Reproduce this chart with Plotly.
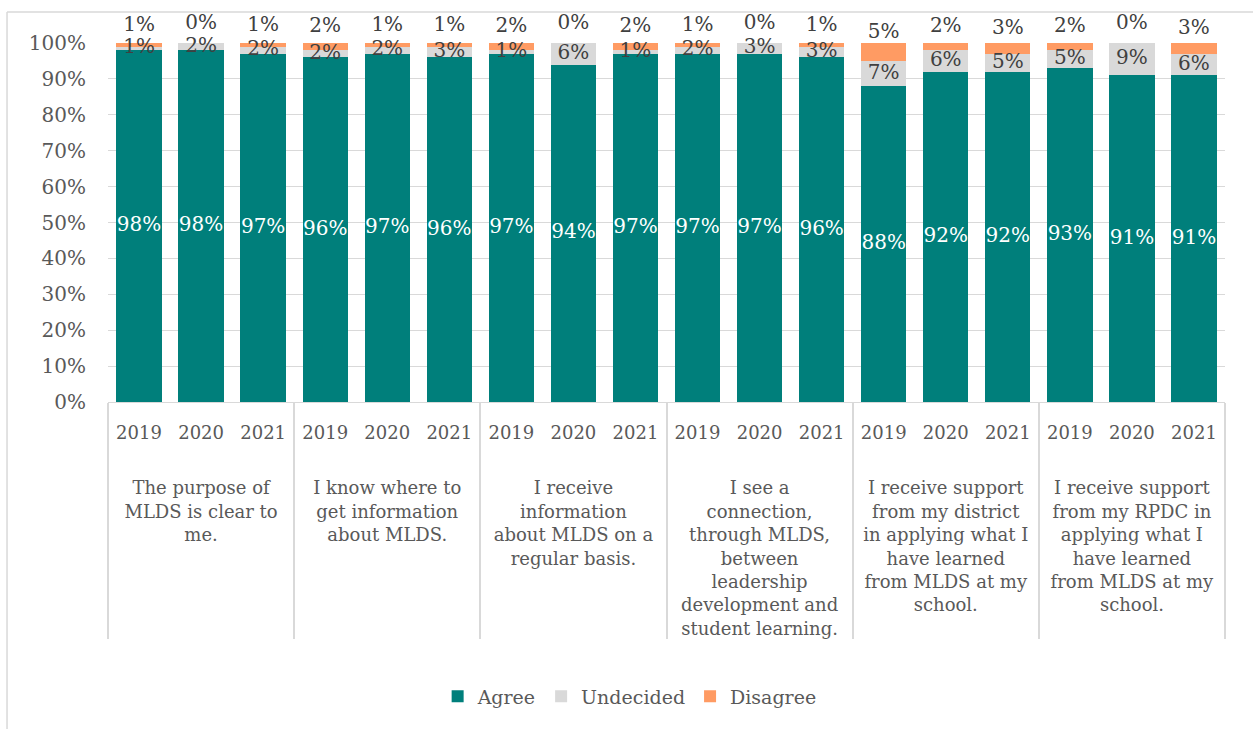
import plotly.graph_objects as go

# Survey statements (axis group labels) and survey years
statements = [
    "The purpose of<br>MLDS is clear to<br>me.",
    "I know where to<br>get information<br>about MLDS.",
    "I receive<br>information<br>about MLDS on a<br>regular basis.",
    "I see a<br>connection,<br>through MLDS,<br>between<br>leadership<br>development and<br>student learning.",
    "I receive support<br>from my district<br>in applying what I<br>have learned<br>from MLDS at my<br>school.",
    "I receive support<br>from my RPDC in<br>applying what I<br>have learned<br>from MLDS at my<br>school.",
]
years = ["2019", "2020", "2021"]

# Percent of respondents, ordered statement by statement, 2019-2021
agree = [98, 98, 97, 96, 97, 96, 97, 94, 97, 97, 97, 96, 88, 92, 92, 93, 91, 91]
undecided = [1, 2, 2, 2, 2, 3, 1, 6, 1, 2, 3, 3, 7, 6, 5, 5, 9, 6]
disagree = [1, 0, 1, 2, 1, 1, 2, 0, 2, 1, 0, 1, 5, 2, 3, 2, 0, 3]

# blank leading lines open a gap between the year row and the statement text
x_outer = ["<br><br>" + s for s in statements for _ in years]
x_inner = [y for _ in statements for y in years]
x = [x_outer, x_inner]

FONT = "DejaVu Serif"
GREY_TXT = "#595959"
LABEL_TXT = "#404040"
C_AGREE = "#007F7B"
C_UND = "#D9D9D9"
C_DIS = "#FF9B63"
LINE = "#D9D9D9"

fig = go.Figure()
fig.add_bar(x=x, y=agree, name="Agree", marker=dict(color=C_AGREE, line=dict(width=0)))
fig.add_bar(x=x, y=undecided, name="Undecided", marker=dict(color=C_UND, line=dict(width=0)))
fig.add_bar(x=x, y=disagree, name="Disagree", marker=dict(color=C_DIS, line=dict(width=0)))

# Value labels: agree and undecided centred in their segment, disagree above its segment
agree_mid = [a / 2 for a in agree]
und_mid = [a + u / 2 for a, u in zip(agree, undecided)]
dis_mid = [a + u + d / 2 for a, u, d in zip(agree, undecided, disagree)]

fig.add_scatter(x=x, y=agree_mid, mode="text", text=[f"{v}%" for v in agree],
                textposition="middle center", showlegend=False, hoverinfo="skip",
                cliponaxis=False,
                textfont=dict(family=FONT, size=20, color="white"))
fig.add_scatter(x=x, y=und_mid, mode="text", text=[f"{v}%" for v in undecided],
                textposition="middle center", showlegend=False, hoverinfo="skip",
                cliponaxis=False,
                textfont=dict(family=FONT, size=20, color=LABEL_TXT))
# invisible markers give the "top center" text its lift above the segment
fig.add_scatter(x=x, y=dis_mid, mode="markers+text", text=[f"{v}%" for v in disagree],
                textposition="top center", showlegend=False, hoverinfo="skip",
                cliponaxis=False, marker=dict(size=13, opacity=0),
                textfont=dict(family=FONT, size=20, color=LABEL_TXT))

fig.update_layout(
    barmode="stack",
    bargap=0.27,
    width=1253,
    height=729,
    margin=dict(l=108, r=28, t=43, b=327),
    paper_bgcolor="white",
    plot_bgcolor="white",
    font=dict(family=FONT, size=18, color=GREY_TXT),
    legend=dict(orientation="h", x=0.467, xanchor="center", y=-0.82, yanchor="middle",
                traceorder="normal", font=dict(family=FONT, size=19, color=GREY_TXT),
                itemwidth=30),
    xaxis=dict(type="multicategory", range=[-0.5, len(agree) - 0.5], automargin=False,
               showgrid=False, showline=True, linecolor=LINE, linewidth=1, ticks="",
               showdividers=True, dividercolor=LINE, dividerwidth=1.5,
               ticklabelstandoff=14,
               tickfont=dict(family=FONT, size=18, color=GREY_TXT)),
    yaxis=dict(range=[0, 100], dtick=10, ticksuffix="%", automargin=False, showgrid=True,
               gridcolor=LINE, gridwidth=1, zeroline=False, showline=False,
               ticks="", ticklabelstandoff=21,
               tickfont=dict(family=FONT, size=20, color=GREY_TXT)),
    shapes=[
        dict(type="line", xref="paper", yref="paper", x0=-0.0904, x1=1.05, y0=1.0864, y1=1.0864,
             line=dict(color=LINE, width=1.5)),
        dict(type="line", xref="paper", yref="paper", x0=-0.0904, x1=-0.0904, y0=1.0864, y1=-1.0,
             line=dict(color=LINE, width=1.5)),
    ],
)

fig.write_html("out.html")
